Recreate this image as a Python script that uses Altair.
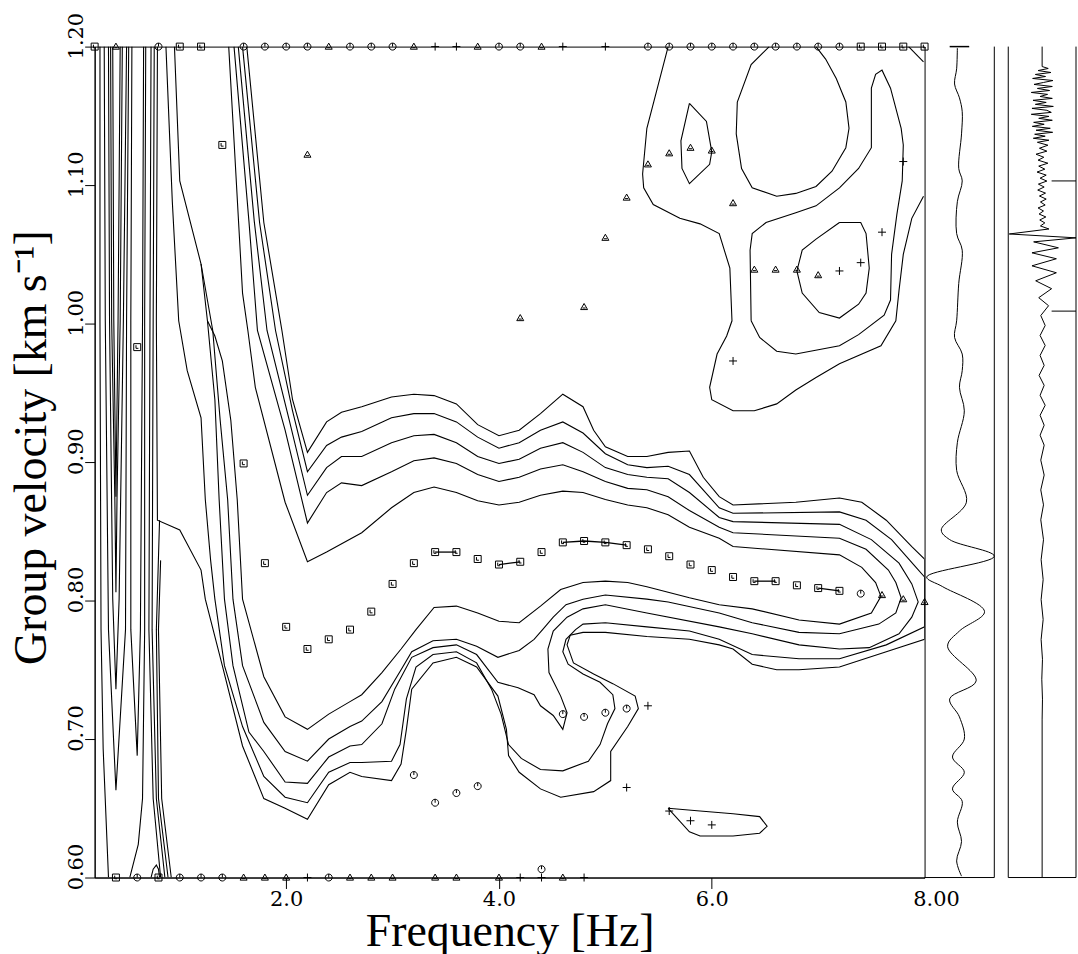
import altair as alt
import pandas as pd

# ---------------- picked maxima (frequency [Hz], group velocity [km/s]) ----------------
sq_f = [0.6, 1.4, 1.6, 1.8, 2.0, 2.2, 2.4, 2.6, 2.8, 3.0, 3.2, 3.4, 3.6, 3.8, 4.0, 4.2, 4.4,
        4.6, 4.8, 5.0, 5.2, 5.4, 5.6, 5.8, 6.0, 6.2, 6.4, 6.6, 6.8, 7.0, 7.2]
sq_v = [0.983, 1.129, 0.899, 0.827, 0.781, 0.765, 0.772, 0.779, 0.792, 0.812, 0.827, 0.835, 0.835,
        0.830, 0.826, 0.828, 0.835, 0.842, 0.843, 0.842, 0.840, 0.837, 0.832, 0.826, 0.822, 0.817,
        0.814, 0.814, 0.811, 0.809, 0.807]
sq_top_f = [0.2, 1.0, 1.2, 7.4, 7.6, 7.8, 8.0]
sq_bot_f = [0.4, 0.8]

ci_f = [3.2, 3.4, 3.6, 3.8, 4.4, 4.6, 4.8, 5.0, 5.2, 7.4]
ci_v = [0.674, 0.654, 0.661, 0.666, 0.606, 0.718, 0.716, 0.719, 0.722, 0.805]
ci_top_f = [0.8, 1.6, 1.8, 2.0, 2.2, 2.6, 2.8, 3.0, 4.0, 4.2, 5.4, 5.6, 5.8, 6.0, 6.2, 6.4, 6.6, 6.8, 7.0, 7.2]
ci_bot_f = [0.6, 1.0, 1.2, 1.4, 2.4]

tr_f = [2.2, 4.2, 4.8, 5.0, 5.2, 5.4, 5.6, 5.8, 6.0, 6.2, 6.4, 6.6, 6.8, 7.0, 7.6, 7.8, 8.0]
tr_v = [1.122, 1.004, 1.012, 1.062, 1.091, 1.115, 1.123, 1.127, 1.125, 1.087, 1.039, 1.039, 1.039,
        1.035, 0.804, 0.801, 0.799]
tr_top_f = [0.4, 2.4, 3.2, 3.8, 4.4]
tr_bot_f = [1.6, 1.8, 2.0, 2.6, 2.8, 3.0, 3.4, 3.6, 4.0, 4.6]

pl_f = [7.2, 7.4, 7.6, 7.8, 6.2, 5.4, 5.2, 5.6, 5.8, 6.0]
pl_v = [1.038, 1.044, 1.066, 1.117, 0.973, 0.724, 0.665, 0.648, 0.641, 0.638]
pl_top_f = [3.4, 3.6, 4.6, 5.0]
pl_bot_f = [2.2, 4.2, 4.4, 4.8]

# square picks joined by a line
links = [[3.4, 3.6], [4.0, 4.2], [4.6, 4.8, 5.0, 5.2], [6.4, 6.6], [7.0, 7.2]]

# ---------------- contour lines (frequency, velocity) ----------------
ring1 = [(1.63, 1.200), (1.79, 1.073), (1.96, 0.995), (2.06, 0.945), (2.20, 0.907),
         (2.38, 0.929), (2.52, 0.936), (2.71, 0.940), (2.99, 0.947), (3.20, 0.949), (3.39, 0.948),
         (3.60, 0.942), (3.80, 0.927), (4.00, 0.919), (4.19, 0.923), (4.39, 0.935), (4.60, 0.949),
         (4.79, 0.940), (4.89, 0.923), (5.00, 0.911), (5.21, 0.904), (5.39, 0.904), (5.59, 0.907),
         (5.79, 0.908), (5.92, 0.889), (6.07, 0.875), (6.20, 0.869), (6.79, 0.871), (7.20, 0.874),
         (7.41, 0.871), (7.64, 0.858), (7.88, 0.839), (8.00, 0.830), (8.00, 0.772),
         (7.64, 0.763), (7.20, 0.752), (6.82, 0.750), (6.61, 0.750), (6.38, 0.754), (6.20, 0.765),
         (6.07, 0.768), (5.79, 0.772), (5.39, 0.774), (5.00, 0.777), (4.79, 0.777), (4.67, 0.775),
         (4.64, 0.768), (4.70, 0.755), (4.89, 0.747), (5.07, 0.740), (5.28, 0.731), (5.31, 0.722),
         (5.21, 0.709), (5.05, 0.691), (5.05, 0.670), (4.89, 0.662), (4.58, 0.658), (4.39, 0.664),
         (4.19, 0.676), (4.09, 0.688), (4.07, 0.707), (3.99, 0.731), (3.79, 0.752), (3.60, 0.759),
         (3.38, 0.755), (3.18, 0.736), (3.13, 0.707), (3.08, 0.682), (2.99, 0.670), (2.71, 0.673),
         (2.60, 0.676), (2.40, 0.667), (2.20, 0.642), (1.99, 0.650), (1.79, 0.657), (1.59, 0.695),
         (1.40, 0.753), (1.24, 0.801), (1.20, 0.822), (1.00, 0.851), (0.79, 0.858), (0.78, 1.002),
         (0.79, 1.200)]
ring2 = [(1.59, 1.200), (1.75, 1.073), (1.90, 0.995), (2.06, 0.937), (2.20, 0.893),
         (2.38, 0.912), (2.52, 0.918), (2.71, 0.922), (2.99, 0.932), (3.20, 0.935), (3.39, 0.935),
         (3.60, 0.929), (3.80, 0.918), (4.00, 0.910), (4.19, 0.914), (4.39, 0.923), (4.60, 0.929),
         (4.79, 0.921), (5.00, 0.906), (5.21, 0.898), (5.39, 0.896), (5.59, 0.897), (5.79, 0.891),
         (6.07, 0.867), (6.20, 0.863), (7.20, 0.864), (7.45, 0.858), (7.69, 0.844), (7.92, 0.824),
         (8.00, 0.817), (8.00, 0.781),
         (7.64, 0.768), (7.20, 0.758), (6.82, 0.758), (6.38, 0.761), (6.07, 0.772), (5.79, 0.778),
         (5.39, 0.781), (5.00, 0.784), (4.79, 0.783), (4.72, 0.779), (4.63, 0.772), (4.60, 0.763),
         (4.65, 0.754), (4.79, 0.747), (4.95, 0.741), (5.07, 0.732), (5.09, 0.722), (5.02, 0.711),
         (4.95, 0.696), (4.84, 0.684), (4.60, 0.677), (4.39, 0.678), (4.21, 0.686), (4.09, 0.696),
         (4.02, 0.718), (3.93, 0.736), (3.79, 0.755), (3.60, 0.763), (3.38, 0.761), (3.22, 0.752),
         (3.13, 0.729), (3.07, 0.696), (2.99, 0.684), (2.71, 0.683), (2.60, 0.683), (2.40, 0.676),
         (2.20, 0.654), (1.99, 0.658), (1.79, 0.673), (1.59, 0.709), (1.42, 0.753), (1.33, 0.801),
         (1.29, 0.829), (1.24, 0.873), (1.20, 0.932), (1.07, 0.966), (0.99, 1.002), (0.93, 1.088),
         (0.87, 1.200)]
ring3 = [(1.55, 1.200), (1.70, 1.074), (1.82, 0.995), (2.03, 0.930), (2.20, 0.876),
         (2.38, 0.896), (2.52, 0.904), (2.71, 0.904), (2.99, 0.914), (3.20, 0.919), (3.39, 0.920),
         (3.60, 0.914), (3.80, 0.904), (4.00, 0.899), (4.19, 0.902), (4.39, 0.910), (4.60, 0.914),
         (4.79, 0.907), (5.00, 0.896), (5.21, 0.891), (5.39, 0.889), (5.59, 0.888), (5.79, 0.878),
         (6.07, 0.860), (6.20, 0.857), (7.20, 0.855), (7.50, 0.844), (7.76, 0.827), (7.88, 0.812),
         (7.94, 0.799), (7.88, 0.788), (7.76, 0.776), (7.48, 0.766), (7.20, 0.765), (6.82, 0.768),
         (6.38, 0.776), (6.07, 0.781), (5.39, 0.791), (5.00, 0.797), (4.79, 0.794), (4.64, 0.788),
         (4.51, 0.778), (4.46, 0.765), (4.47, 0.748), (4.58, 0.731), (4.64, 0.719), (4.60, 0.707),
         (4.51, 0.717), (4.39, 0.724), (4.33, 0.732), (4.18, 0.737), (3.99, 0.741), (3.79, 0.761),
         (3.60, 0.768), (3.38, 0.766), (3.18, 0.759), (3.02, 0.736), (2.90, 0.711), (2.71, 0.696),
         (2.60, 0.695), (2.40, 0.687), (2.20, 0.668), (1.99, 0.669), (1.79, 0.691), (1.65, 0.705),
         (1.50, 0.753), (1.42, 0.801), (1.37, 0.873), (1.33, 0.945), (1.26, 1.002), (1.20, 1.043),
         (1.00, 1.103), (0.95, 1.200)]
ring4 = [(1.51, 1.200), (1.65, 1.074), (1.73, 0.995), (1.99, 0.923), (2.20, 0.856),
         (2.38, 0.878), (2.52, 0.885), (2.71, 0.883), (2.99, 0.893), (3.20, 0.901), (3.39, 0.903),
         (3.60, 0.899), (3.80, 0.891), (4.00, 0.886), (4.19, 0.889), (4.39, 0.895), (4.60, 0.898),
         (4.79, 0.893), (5.00, 0.886), (5.21, 0.881), (5.39, 0.880), (5.59, 0.875), (5.79, 0.865),
         (6.07, 0.853), (6.20, 0.849), (7.20, 0.845), (7.45, 0.837), (7.66, 0.822), (7.73, 0.813),
         (7.78, 0.802), (7.73, 0.791), (7.57, 0.783), (7.20, 0.776), (6.82, 0.777), (6.38, 0.784),
         (6.07, 0.791), (5.59, 0.799), (5.39, 0.801), (5.00, 0.804), (4.79, 0.801), (4.63, 0.797),
         (4.51, 0.788), (4.41, 0.779), (4.33, 0.772), (4.19, 0.764), (3.99, 0.759), (3.79, 0.767),
         (3.60, 0.772), (3.38, 0.771), (3.18, 0.763), (3.08, 0.750), (2.90, 0.727), (2.71, 0.713),
         (2.60, 0.709), (2.40, 0.700), (2.20, 0.684), (1.99, 0.691), (1.79, 0.712), (1.59, 0.753),
         (1.50, 0.801), (1.45, 0.873), (1.38, 0.930), (1.31, 0.995), (1.20, 1.043)]
ring5 = [(1.46, 1.200), (1.51, 1.132), (1.59, 1.022), (1.64, 0.995), (1.71, 0.954), (1.99, 0.871),
         (2.20, 0.828), (2.38, 0.835), (2.71, 0.849), (2.99, 0.867), (3.20, 0.878), (3.39, 0.882),
         (3.60, 0.878), (3.80, 0.872), (4.00, 0.869), (4.19, 0.871), (4.39, 0.876), (4.60, 0.879),
         (4.79, 0.878), (5.00, 0.873), (5.21, 0.869), (5.39, 0.867), (5.59, 0.862), (5.79, 0.853),
         (6.07, 0.845), (6.20, 0.839), (7.20, 0.833), (7.41, 0.824), (7.54, 0.813), (7.59, 0.803),
         (7.50, 0.791), (7.20, 0.783), (6.82, 0.786), (6.38, 0.794), (6.07, 0.797), (5.79, 0.802),
         (5.59, 0.806), (5.39, 0.810), (5.21, 0.813), (5.00, 0.814), (4.79, 0.813), (4.58, 0.808),
         (4.39, 0.796), (4.19, 0.784), (4.00, 0.785), (3.80, 0.791), (3.60, 0.796), (3.39, 0.795),
         (3.22, 0.779), (3.08, 0.765), (2.90, 0.748), (2.71, 0.732), (2.60, 0.727), (2.40, 0.718),
         (2.20, 0.707), (1.99, 0.716), (1.79, 0.745), (1.59, 0.801), (1.54, 0.873), (1.48, 0.930),
         (1.40, 0.973), (1.33, 0.991), (1.26, 1.002)]

low_v1 = [(0.25, 1.2), (0.25, 1.002), (0.26, 0.779), (0.28, 0.693), (0.33, 0.6)]
low_s1 = [(0.37, 1.2), (0.38, 1.002), (0.40, 0.875), (0.42, 1.002), (0.44, 1.2)]
low_s2 = [(0.35, 1.2), (0.36, 1.002), (0.39, 0.873), (0.40, 0.806), (0.41, 0.873), (0.44, 1.002), (0.46, 1.2)]
low_s3 = [(0.33, 1.2), (0.34, 1.002), (0.37, 0.801), (0.40, 0.736), (0.43, 0.801), (0.47, 1.002), (0.50, 1.2)]
low_s4 = [(0.29, 1.2), (0.30, 1.002), (0.33, 0.779), (0.40, 0.663), (0.49, 0.779), (0.50, 1.002), (0.52, 1.2)]
low_s5 = [(0.55, 1.2), (0.54, 1.002), (0.54, 0.779), (0.60, 0.688), (0.63, 0.779), (0.65, 1.002), (0.66, 1.2)]
low_v2 = [(0.68, 1.2), (0.67, 1.002), (0.67, 0.779), (0.65, 0.657), (0.61, 0.624), (0.53, 0.6)]
low_v3 = [(0.73, 1.2), (0.72, 1.002), (0.71, 0.779), (0.75, 0.657), (0.82, 0.6)]
low_v4 = [(0.76, 1.2), (0.75, 1.002), (0.74, 0.779), (0.78, 0.657), (0.86, 0.6)]
low_v5 = [(0.81, 0.858), (0.78, 0.779), (0.80, 0.657), (0.89, 0.6)]
low_v6 = [(0.82, 0.829), (0.80, 0.779), (0.83, 0.657), (0.92, 0.6)]
low_arc = [(0.73, 0.6), (0.75, 0.606), (0.78, 0.609), (0.80, 0.606), (0.81, 0.6)]

up_outer = [(5.59, 1.200), (5.39, 1.141), (5.35, 1.108), (5.36, 1.098), (5.45, 1.086), (5.70, 1.076),
            (5.89, 1.072), (6.07, 1.065), (6.17, 1.040), (6.19, 1.002), (6.14, 0.991), (6.05, 0.978),
            (5.98, 0.954), (6.00, 0.945), (6.20, 0.937), (6.40, 0.937), (6.61, 0.942), (6.79, 0.952),
            (6.98, 0.961), (7.20, 0.971), (7.59, 0.984), (7.73, 1.002), (7.76, 1.024), (7.80, 1.050),
            (7.88, 1.076), (7.99, 1.092)]
up_small = [(5.79, 1.159), (5.95, 1.146), (6.00, 1.124), (5.98, 1.115), (5.79, 1.101), (5.72, 1.112),
            (5.71, 1.132), (5.79, 1.159)]
up_top = [(6.54, 1.200), (6.37, 1.187), (6.24, 1.160), (6.23, 1.137), (6.28, 1.112), (6.38, 1.098),
          (6.61, 1.092), (6.79, 1.094), (6.98, 1.099), (7.13, 1.110), (7.26, 1.127), (7.29, 1.141),
          (7.26, 1.160), (7.17, 1.177), (7.07, 1.191), (6.98, 1.200)]
up_mid = [(6.37, 1.002), (6.36, 1.053), (6.38, 1.065), (6.51, 1.073), (6.79, 1.080), (6.98, 1.085),
          (7.20, 1.098), (7.38, 1.112), (7.50, 1.127), (7.50, 1.148), (7.50, 1.170), (7.54, 1.180),
          (7.60, 1.183), (7.68, 1.170), (7.78, 1.141), (7.80, 1.129), (7.79, 1.103), (7.74, 1.079),
          (7.69, 1.050), (7.68, 1.017), (7.62, 1.006), (7.38, 0.992), (7.20, 0.984), (6.79, 0.978),
          (6.61, 0.980), (6.45, 0.990), (6.37, 1.002)]
up_inner = [(7.20, 1.073), (7.40, 1.073), (7.45, 1.065), (7.48, 1.040), (7.45, 1.022), (7.38, 1.014),
            (7.20, 1.004), (7.01, 1.008), (6.85, 1.022), (6.80, 1.038), (6.85, 1.053), (6.98, 1.061),
            (7.20, 1.073)]
up_corner = [(7.85, 1.200), (7.99, 1.189)]
low_island = [(5.59, 0.650), (5.89, 0.648), (6.20, 0.646), (6.45, 0.644), (6.52, 0.637), (6.45, 0.632),
              (6.20, 0.630), (5.89, 0.630), (5.79, 0.633), (5.59, 0.650)]

contour_lines = [("ring1", ring1), ("ring2", ring2), ("ring3", ring3), ("ring4", ring4), ("ring5", ring5),
                 ("low_v1", low_v1), ("low_s1", low_s1), ("low_s2", low_s2), ("low_s3", low_s3),
                 ("low_s4", low_s4), ("low_s5", low_s5), ("low_v2", low_v2), ("low_v3", low_v3),
                 ("low_v4", low_v4), ("low_v5", low_v5), ("low_v6", low_v6), ("low_arc", low_arc),
                 ("up_outer", up_outer), ("up_small", up_small), ("up_top", up_top), ("up_mid", up_mid),
                 ("up_inner", up_inner), ("up_corner", up_corner), ("low_island", low_island)]

# ---------------- side trace: filtered envelope (amplitude 0..1, velocity) ----------------
env_a = [0.47, 0.46, 0.43, 0.50, 0.54, 0.53, 0.49, 0.54, 0.47, 0.46, 0.54, 0.49, 0.46, 0.43, 0.54,
         0.54, 0.50, 0.57, 0.47, 0.46, 0.60, 0.24, 0.36, 1.00, 0.03, 0.26, 0.86, 0.50, 0.33, 0.74,
         0.36, 0.50, 0.57, 0.40, 0.57, 0.40, 0.54, 0.47, 0.53, 0.46, 0.53]
env_v = [1.199, 1.184, 1.173, 1.163, 1.153, 1.137, 1.112, 1.103, 1.088, 1.065, 1.053, 1.029, 1.002,
         0.990, 0.978, 0.966, 0.954, 0.937, 0.914, 0.894, 0.871, 0.851, 0.844, 0.832, 0.817, 0.810,
         0.792, 0.778, 0.767, 0.742, 0.729, 0.716, 0.700, 0.687, 0.676, 0.664, 0.655, 0.640, 0.626,
         0.612, 0.601]
env_cap_a = [0.36, 0.64]
env_cap_v = [1.2, 1.2]

# ---------------- seismogram (normalised amplitude -1..1, velocity) ----------------
seis_b = [0.0, 0.0, 0.18, -0.12, 0.26, -0.20, 0.10, -0.28, 0.32, 0.04, -0.24, 0.30, -0.14, 0.22,
          -0.32, 0.16, -0.06, 0.30, -0.27, 0.12, -0.20, 0.33, -0.30, 0.14, 0.27, -0.32, 0.20, -0.10,
          0.30, -0.25, 0.06, -0.29, 0.24, -0.18, 0.31, -0.22, 0.09, -0.26, 0.20, -0.14,
          0.17, -0.08, 0.14, -0.18, 0.05, -0.12, 0.17, -0.10, 0.08, -0.15, 0.12, -0.06, 0.14, -0.11,
          0.06, -0.13, 0.10, -0.08, 0.12, -0.05, 0.09, -0.12, 0.04, -0.09, 0.11, -0.07, 0.08, -0.05,
          0.20, -0.97, 1.00, -0.25, 0.48, -0.30, 0.42, -0.30, 0.42, -0.19, 0.28, -0.10, 0.19, -0.04,
          0.09, -0.06, 0.09, -0.06, 0.06, -0.09, 0.06, -0.06, 0.09, -0.06, 0.06, -0.06, 0.06, -0.04,
          0.06, -0.04, 0.04, -0.04, 0.04, -0.03, 0.03, -0.03, 0.03, -0.03, 0.01, -0.01, 0.01, 0.0, 0.0]
seis_v = [1.200, 1.1856, 1.1842, 1.1827, 1.1813, 1.1799, 1.1784, 1.1770, 1.1755, 1.1741, 1.1727,
          1.1712, 1.1698, 1.1683, 1.1669, 1.1655, 1.1640, 1.1626, 1.1612, 1.1597, 1.1583, 1.1568,
          1.1554, 1.1540, 1.1525, 1.1511, 1.1496, 1.1482, 1.1468, 1.1453, 1.1439, 1.1424, 1.1410,
          1.1396, 1.1381, 1.1367, 1.1353, 1.1338, 1.1324, 1.1309,
          1.1288, 1.1266, 1.1245, 1.1223, 1.1201, 1.1180, 1.1158, 1.1137, 1.1115, 1.1094, 1.1072,
          1.1050, 1.1029, 1.1007, 1.0986, 1.0964, 1.0942, 1.0921, 1.0899, 1.0878, 1.0856, 1.0835,
          1.0813, 1.0791, 1.0770, 1.0748, 1.0727, 1.0705,
          1.0683, 1.0647, 1.0619, 1.0590, 1.0547, 1.0511, 1.0468, 1.0417, 1.0367, 1.0309, 1.0252,
          1.0187, 1.0129, 1.0058,
          0.9986, 0.9914, 0.9842, 0.9770, 0.9698, 0.9626, 0.9554, 0.9482, 0.9410, 0.9338, 0.9266,
          0.9194, 0.9122, 0.9014, 0.8906, 0.8799, 0.8691, 0.8583, 0.8439, 0.8295, 0.8151, 0.8007,
          0.7863, 0.7719, 0.7576, 0.7432, 0.7288, 0.7144, 0.6]
# window marks on the right edge of the seismogram panel
win_v = [1.103, 1.009]
win_b0 = [0.28, 0.28]
win_b1 = [1.0, 1.0]

x_tick_values = [2.0, 4.0, 6.0]
y_tick_values = [0.6, 0.7, 0.8, 0.9, 1.0, 1.1, 1.2]
side_label = ["8.00"]

# ---------------- build tables ----------------
F_MIN, F_MAX, V_MIN, V_MAX = 0.2, 8.0, 0.6, 1.2
W, H = 833, 834

rows = []
for name, pts in contour_lines:
    for i, (f, v) in enumerate(pts):
        rows.append({"cid": name, "k": i, "f": f, "v": v})
df_cont = pd.DataFrame(rows)

sq_map = dict(zip(sq_f, sq_v))
link_rows = []
for j, grp in enumerate(links):
    for i, f in enumerate(grp):
        link_rows.append({"lid": j, "k": i, "f": f, "v": sq_map[f]})
df_links = pd.DataFrame(link_rows)


def marker_df(f_in, v_in, f_top, f_bot):
    return pd.DataFrame({"f": list(f_in) + list(f_top) + list(f_bot),
                         "v": list(v_in) + [V_MAX] * len(f_top) + [V_MIN] * len(f_bot)})


df_sq = marker_df(sq_f, sq_v, sq_top_f, sq_bot_f)
df_ci = marker_df(ci_f, ci_v, ci_top_f, ci_bot_f)
df_tr = marker_df(tr_f, tr_v, tr_top_f, tr_bot_f)
df_pl = marker_df(pl_f, pl_v, pl_top_f, pl_bot_f)

df_env = pd.DataFrame({"a": env_a, "v": env_v, "k": range(len(env_a))})
df_cap = pd.DataFrame({"a": env_cap_a, "v": env_cap_v, "k": [0, 1]})
df_seis = pd.DataFrame({"b": seis_b, "v": seis_v, "k": range(len(seis_b))})
df_win = pd.DataFrame({"b0": win_b0, "b1": win_b1, "v": win_v})
df_one = pd.DataFrame({"t": side_label})

SERIF = "Liberation Serif"
TICKFONT = "DejaVu Serif"

xs = alt.Scale(domain=[F_MIN, F_MAX], nice=False, zero=False)
ys = alt.Scale(domain=[V_MIN, V_MAX], nice=False, zero=False)

x_axis = alt.Axis(values=x_tick_values, format=".1f", title="Frequency [Hz]", grid=False,
                  tickSize=11, tickColor="black", domainColor="black", labelColor="black",
                  labelFont=TICKFONT, labelFontSize=21, labelPadding=0, labelFlush=False,
                  titleFont=SERIF, titleFontSize=46, titleFontWeight="normal", titleColor="black",
                  titleBaseline="alphabetic", titleAlign="center", titleX=W / 2, titleY=68)
y_axis = alt.Axis(values=y_tick_values, format=".2f", title="Group velocity [km s⁻¹]", grid=False,
                  tickSize=10, tickColor="black", domainColor="black", labelColor="black",
                  labelFont=TICKFONT, labelFontSize=21, labelPadding=2, labelFlush=False,
                  labelAngle=270, labelAlign="center", labelBaseline="alphabetic", labelOffset=-11,
                  labelOverlap=False,
                  titleFont=SERIF, titleFontSize=46, titleFontWeight="normal", titleColor="black",
                  titleAngle=270, titleBaseline="alphabetic", titleAlign="center",
                  titleX=-49, titleY=H / 2 - 15)

X = alt.X("f:Q", scale=xs, axis=x_axis)
Y = alt.Y("v:Q", scale=ys, axis=y_axis)

cont = alt.Chart(df_cont).mark_line(color="black", strokeWidth=1.1, clip=True).encode(
    x=X, y=Y, detail="cid:N", order="k:Q")
link = alt.Chart(df_links).mark_line(color="black", strokeWidth=1.3).encode(
    x=X, y=Y, detail="lid:N", order="k:Q")

SQ = "M-1,-1L1,-1L1,1L-1,1Z M-0.35,-0.55L-0.35,0.35L0.35,0.35"
CI = "M1,0A1,1,0,1,1,-1,0A1,1,0,1,1,1,0Z M0,0L0,-1"
TR = "M0,-1L1,0.75L-1,0.75Z M-0.45,0.3L0.45,0.3"
PL = "M-1,0L1,0 M0,-1L0,1"


def pts(df, shape, size):
    return alt.Chart(df).mark_point(shape=shape, size=size, filled=False, color="black",
                                    strokeWidth=1, opacity=1).encode(x=X, y=Y)


main = alt.layer(cont, link, pts(df_sq, SQ, 49), pts(df_ci, CI, 49), pts(df_tr, TR, 49),
                 pts(df_pl, PL, 64)).properties(
    width=W, height=H, view=alt.ViewBackground(stroke="black", strokeWidth=1))

AW, GAP, BW = 70, 14, 68
env = alt.Chart(df_env).mark_line(color="black", strokeWidth=1, interpolate="catmull-rom").encode(
    x=alt.X("a:Q", scale=alt.Scale(domain=[0, 1]), axis=None),
    y=alt.Y("v:Q", scale=ys, axis=None), order="k:Q")
cap = alt.Chart(df_cap).mark_line(color="black", strokeWidth=1.5).encode(
    x=alt.X("a:Q", scale=alt.Scale(domain=[0, 1]), axis=None),
    y=alt.Y("v:Q", scale=ys, axis=None), order="k:Q")
a_right = alt.Chart(df_one).mark_rule(color="black", strokeWidth=1).encode(
    x=alt.value(AW), y=alt.value(0), y2=alt.value(H))
a_bottom = alt.Chart(df_one).mark_rule(color="black", strokeWidth=1).encode(
    x=alt.value(0), x2=alt.value(AW), y=alt.value(H))
a_label = alt.Chart(df_one).mark_text(font=TICKFONT, fontSize=21, align="center",
                                      baseline="alphabetic", color="black").encode(
    text="t:N", x=alt.value(12), y=alt.value(H + 29))
panel_a = alt.layer(env, cap, a_right, a_bottom, a_label).properties(
    width=AW, height=H, view=alt.ViewBackground(stroke=None))

spacer = alt.Chart(df_one).mark_point(opacity=0).encode(
    x=alt.value(0), y=alt.value(0)).properties(width=GAP, height=H, view=alt.ViewBackground(stroke=None))

BX = alt.Scale(domain=[-1, 1])
seis = alt.Chart(df_seis).mark_line(color="black", strokeWidth=1).encode(
    x=alt.X("b:Q", scale=BX, axis=None),
    y=alt.Y("v:Q", scale=ys, axis=None), order="k:Q")
win = alt.Chart(df_win).mark_rule(color="black", strokeWidth=1).encode(
    x=alt.X("b0:Q", scale=BX, axis=None), x2="b1:Q", y=alt.Y("v:Q", scale=ys, axis=None))
b_left = alt.Chart(df_one).mark_rule(color="black", strokeWidth=1).encode(
    x=alt.value(0), y=alt.value(0), y2=alt.value(H))
b_right = alt.Chart(df_one).mark_rule(color="black", strokeWidth=1).encode(
    x=alt.value(BW), y=alt.value(0), y2=alt.value(H))
b_bottom = alt.Chart(df_one).mark_rule(color="black", strokeWidth=1).encode(
    x=alt.value(0), x2=alt.value(BW), y=alt.value(H))
panel_b = alt.layer(seis, win, b_left, b_right, b_bottom).properties(
    width=BW, height=H, view=alt.ViewBackground(stroke=None))

chart = alt.hconcat(main, panel_a, spacer, panel_b, spacing=0, bounds="flush").properties(
    padding={"left": 8, "top": 10, "right": 0, "bottom": 0},
    background="white",
).configure_view(stroke=None).configure(font=SERIF)

chart.save("out.html", embed_options={"renderer": "svg", "actions": False})
